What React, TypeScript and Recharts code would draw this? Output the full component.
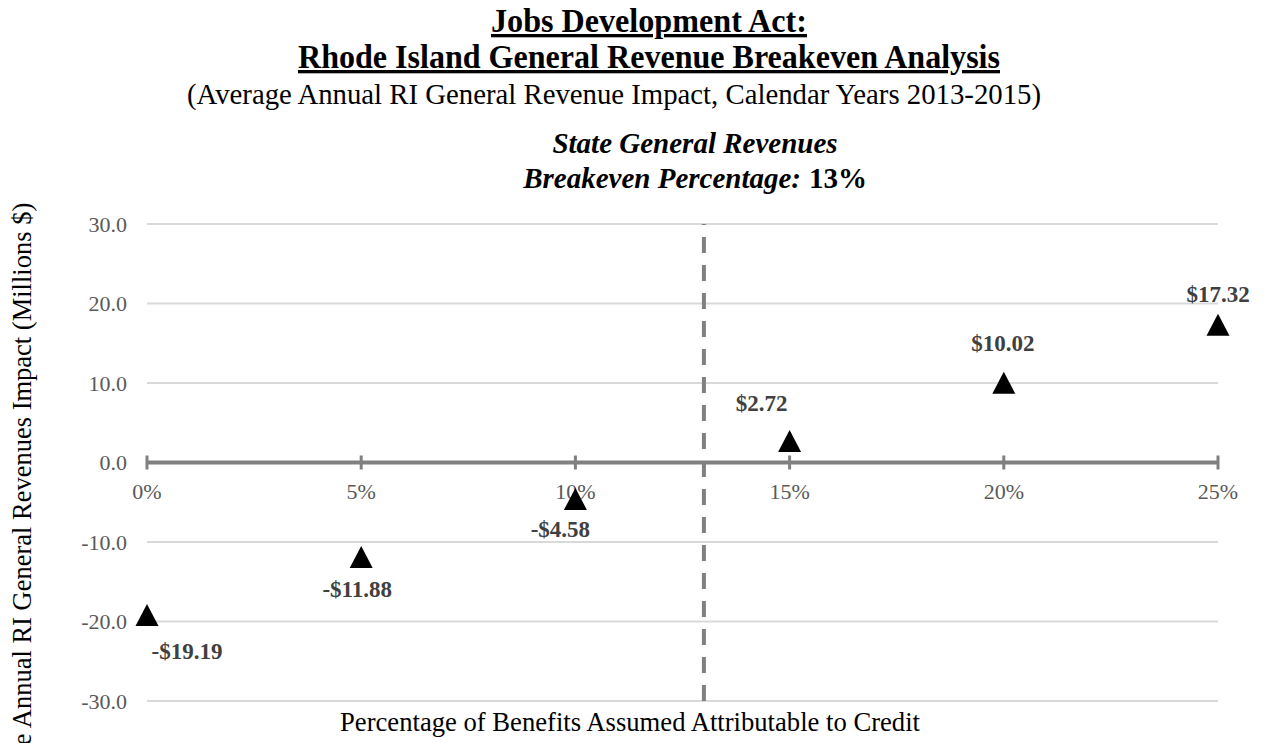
import { ScatterChart, Scatter, XAxis, YAxis, CartesianGrid, ReferenceLine, ReferenceDot } from 'recharts'

document.body.style.margin = '0'

// percentage of benefits assumed attributable to credit
const PCT = [0, 5, 10, 15, 20, 25]
// average annual RI general revenue impact, millions $
const IMPACT = [-19.19, -11.88, -4.58, 2.72, 10.02, 17.32]
const Y_TICKS = [-30, -20, -10, 0, 10, 20, 30]
const X_TICKS = [0, 5, 10, 15, 20, 25]
const BREAKEVEN = 13

// hand-placed label offsets (px) like in the original workbook
const LABEL_DX = [40, -4, -15, -28, -1, 0]
const LABEL_DY = [44, 40, 38, -30, -32, -23]

const data = PCT.map((p, i) => ({ pct: p, value: IMPACT[i], i }))

const FONT = '"Liberation Serif", "Times New Roman", serif'

const fmtMoney = (v: number) => (v < 0 ? `-$${Math.abs(v).toFixed(2)}` : `$${v.toFixed(2)}`)

function Marker(props: any) {
  const { cx, cy, payload } = props
  const i = payload.i
  return (
    <g>
      <polygon
        points={`${cx},${cy - 11} ${cx - 11.5},${cy + 11} ${cx + 11.5},${cy + 11}`}
        fill="#000"
      />
      <text
        x={cx + LABEL_DX[i]}
        y={cy + LABEL_DY[i]}
        textAnchor="middle"
        fontFamily={FONT}
        fontWeight="bold"
        fontSize={23}
        fill="#404040"
      >
        {fmtMoney(payload.value)}
      </text>
    </g>
  )
}

function AxisTick(props: any) {
  const { cx, cy, label } = props
  return (
    <g>
      <line x1={cx} x2={cx} y1={cy - 7} y2={cy + 7} stroke="#808080" strokeWidth={3} />
      <text x={cx} y={cy + 36} textAnchor="middle" fontFamily={FONT} fontSize={22} fill="#595959">
        {label}
      </text>
    </g>
  )
}

export default function App() {
  return (
    <div style={{ position: 'relative', width: 1265, height: 743, background: '#fff', overflow: 'hidden' }}>
      <ScatterChart width={1265} height={743} margin={{ top: 224, right: 47, bottom: 42, left: 0 }}>
        <CartesianGrid vertical={false} stroke="#d9d9d9" strokeWidth={2} />
        <XAxis type="number" dataKey="pct" domain={[0, 25]} ticks={X_TICKS} hide />
        <YAxis
          type="number"
          dataKey="value"
          domain={[-30, 30]}
          ticks={Y_TICKS}
          width={147}
          axisLine={false}
          tickLine={false}
          tickMargin={14}
          tickFormatter={(v: number) => v.toFixed(1)}
          tick={{ fontFamily: FONT, fontSize: 22, fill: '#595959' }}
        />
        <ReferenceLine y={0} stroke="#808080" strokeWidth={4} />
        <ReferenceLine x={BREAKEVEN} stroke="#808080" strokeWidth={4} strokeDasharray="16 12" />
        {X_TICKS.map((t) => (
          <ReferenceDot
            key={t}
            x={t}
            y={0}
            r={0}
            shape={(p: any) => <AxisTick {...p} label={`${t}%`} />}
          />
        ))}
        <Scatter data={data} isAnimationActive={false} shape={(p: any) => <Marker {...p} />} />
      </ScatterChart>
      <svg
        width={1265}
        height={743}
        style={{ position: 'absolute', left: 0, top: 0, pointerEvents: 'none' }}
        fontFamily={FONT}
      >
        <text x={649} y={32} textAnchor="middle" fontSize={33} fontWeight="bold" textDecoration="underline" textLength={316} lengthAdjust="spacingAndGlyphs">
          Jobs Development Act:
        </text>
        <text x={649} y={68} textAnchor="middle" fontSize={33} fontWeight="bold" textDecoration="underline" textLength={702} lengthAdjust="spacingAndGlyphs">
          Rhode Island General Revenue Breakeven Analysis
        </text>
        <text x={614} y={104} textAnchor="middle" fontSize={29} textLength={854} lengthAdjust="spacingAndGlyphs">
          (Average Annual RI General Revenue Impact, Calendar Years 2013-2015)
        </text>
        <text x={695} y={153} textAnchor="middle" fontSize={29} fontWeight="bold" fontStyle="italic">
          State General Revenues
        </text>
        <text x={801} y={188} textAnchor="end" fontSize={29} fontWeight="bold" fontStyle="italic">
          Breakeven Percentage:
        </text>
        <text x={809} y={188} textAnchor="start" fontSize={29} fontWeight="bold">
          13%
        </text>
        <text x={630} y={731} textAnchor="middle" fontSize={27} textLength={580} lengthAdjust="spacingAndGlyphs">
          Percentage of Benefits Assumed Attributable to Credit
        </text>
        <text x={0} y={0} transform="translate(31,512) rotate(-90)" textAnchor="middle" fontSize={26.5}>
          Average Annual RI General Revenues Impact (Millions $)
        </text>
      </svg>
    </div>
  )
}
